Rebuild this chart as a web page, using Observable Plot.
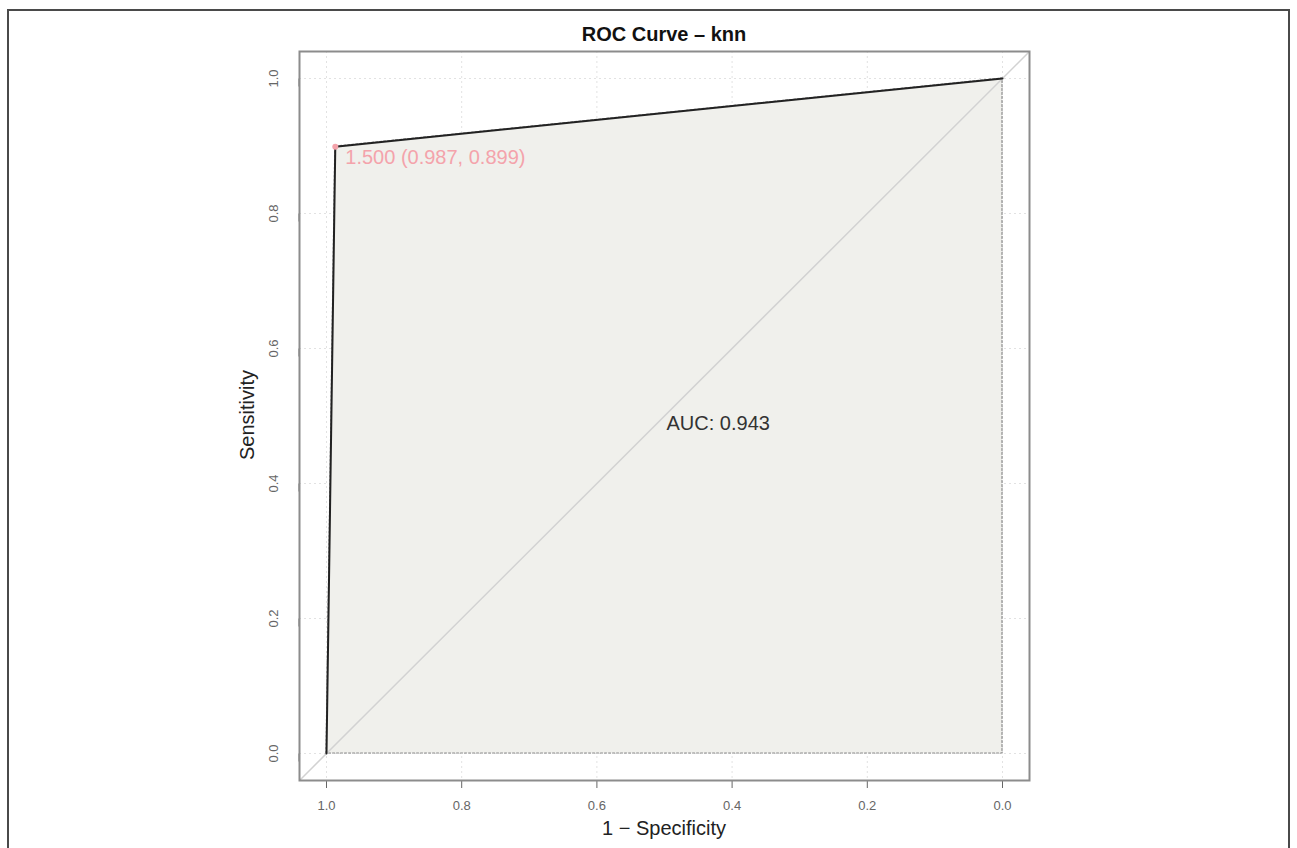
<!DOCTYPE html>
<html>
<head>
<meta charset="utf-8">
<script src="https://cdn.jsdelivr.net/npm/d3@7"></script>
<script src="https://cdn.jsdelivr.net/npm/@observablehq/plot@0.6"></script>
<style>
  html, body { margin: 0; padding: 0; background: #fff; }
  #page { position: relative; width: 1297px; height: 848px; overflow: hidden; font-family: "Liberation Sans", Arial, sans-serif; }
  #border { position: absolute; left: 7px; top: 9px; width: 1283px; height: 860px; border: 2px solid #4a4a4a; box-sizing: border-box; }
  #chart { position: absolute; left: 0; top: 0; }
  #chart g[aria-label="x-axis tick label"], #chart g[aria-label="y-axis tick label"] { font-size: 13px !important; }
  .title { position: absolute; top: 22px; left: 464px; width: 400px; text-align: center; font-weight: bold; font-size: 20px; color: #111; line-height: 24px; }
  .xlabel { position: absolute; top: 816px; left: 464px; width: 400px; text-align: center; font-size: 20px; color: #222; line-height: 24px; }
  .ylabel { position: absolute; left: 47px; top: 403px; width: 400px; text-align: center; font-size: 20px; color: #222; line-height: 24px; transform: rotate(-90deg); transform-origin: 200px 12px; }
</style>
</head>
<body>
<div id="page">
  <div id="border"></div>
  <div id="chart"></div>
  <div class="title">ROC Curve – knn</div>
  <div class="xlabel">1 − Specificity</div>
  <div class="ylabel">Sensitivity</div>
</div>
<script>
// ROC curve points (pROC style: specificity on a reversed axis)
const specificity = [1.0, 0.987, 0.0];
const sensitivity = [0.0, 0.899, 1.0];

// best threshold
const thresholdValue = [1.5];
const thresholdSpec = [0.987];
const thresholdSens = [0.899];

// AUC
const aucValue = 0.943;
const aucPosition = {spec: 0.5, sens: 0.5};

// axis ticks
const tickValues = [0, 0.2, 0.4, 0.6, 0.8, 1.0];

// chance line (abline intercept 1, slope -1), drawn across and clipped to the frame
const chanceIntercept = 1;
const chanceSlope = -1;
const chanceX = [-1, 2];

const roc = specificity.map((s, i) => ({spec: s, sens: sensitivity[i]}));
const thres = thresholdValue.map((t, i) => ({
  t, spec: thresholdSpec[i], sens: thresholdSens[i],
  label: `${d3.format(".3f")(t)} (${d3.format(".3f")(thresholdSpec[i])}, ${d3.format(".3f")(thresholdSens[i])})`
}));
const chance = chanceX.map(x => ({spec: x, sens: chanceIntercept + chanceSlope * x}));
const fmt = d3.format(".1f");

const chart = Plot.plot({
  width: 1297,
  height: 848,
  marginLeft: 299,
  marginRight: 268,
  marginTop: 51,
  marginBottom: 68,
  style: {fontFamily: "Liberation Sans, Arial, sans-serif", fontSize: "13px", background: "transparent"},
  x: {domain: [1, 0], inset: 27},
  y: {domain: [0, 1], inset: 27},
  marks: [
    Plot.gridX(tickValues, {stroke: "#e2e2e2", strokeOpacity: 1, strokeDasharray: "2,3"}),
    Plot.gridY(tickValues, {stroke: "#e2e2e2", strokeOpacity: 1, strokeDasharray: "2,3"}),
    Plot.areaY(roc, {x: "spec", y: "sens", fill: "#f0f0ec", fillOpacity: 1}),
    Plot.areaY(roc, {x: "spec", y: "sens", fill: "none", stroke: "#8a8a8a", strokeWidth: 1.2, strokeDasharray: "2,2"}),
    Plot.line(chance, {x: "spec", y: "sens", stroke: "#d2d2d2", strokeWidth: 1.5, clip: true}),
    Plot.line(roc, {x: "spec", y: "sens", stroke: "#222", strokeWidth: 2}),
    Plot.dot(thres, {x: "spec", y: "sens", r: 3, fill: "#f4a3ab", stroke: "none"}),
    Plot.text(thres, {x: "spec", y: "sens", text: "label", textAnchor: "start", lineAnchor: "top", dx: 10, dy: 3, fill: "#f4a3ab", fontSize: 20}),
    Plot.text([aucValue], {x: () => aucPosition.spec, y: () => aucPosition.sens, text: d => `AUC: ${d3.format(".3f")(d)}`, textAnchor: "start", lineAnchor: "top", dx: 2, dy: 0, fill: "#333", fontSize: 20}),
    Plot.axisX({ticks: tickValues, tickFormat: fmt, tickSize: 8, tickPadding: 12, color: "#666", fontSize: 13, label: null}),
    Plot.axisY({ticks: tickValues, tickFormat: fmt, tickSize: 8, tickPadding: 18, rotate: -90, textAnchor: "middle", color: "#666", fontSize: 13, label: null}),
    Plot.frame({stroke: "#8c8c8c", strokeWidth: 2})
  ]
});
document.getElementById("chart").appendChild(chart);
</script>
</body>
</html>
